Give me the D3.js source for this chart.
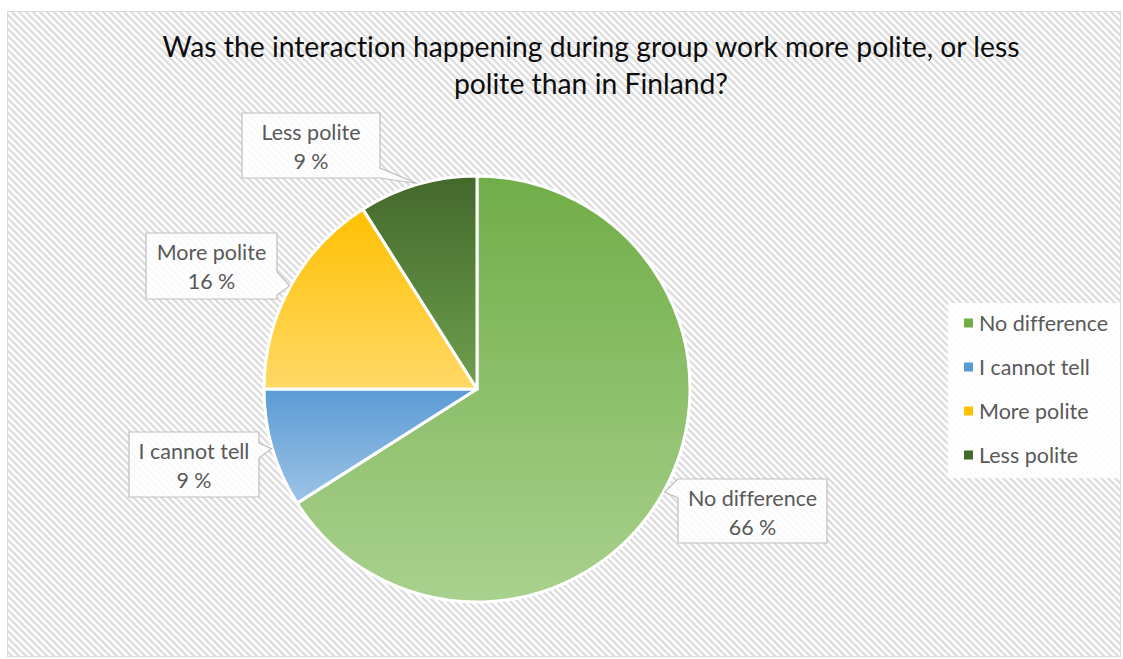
<!DOCTYPE html>
<html>
<head>
<meta charset="utf-8">
<script src="https://cdn.jsdelivr.net/npm/d3@7"></script>
<style>
  html, body { margin: 0; padding: 0; background: #ffffff; }
  svg { display: block; }
  text { font-family: Lato, "Open Sans", sans-serif; font-variant-ligatures: none; }
</style>
</head>
<body>
<svg id="chart" width="1123" height="659"></svg>
<script>
// Survey answers (percent of respondents)
const categories = ["No difference", "I cannot tell", "More polite", "Less polite"];
const values = [66, 9, 16, 9];
const titleLines = [
  "Was the interaction happening during group work more polite, or less",
  "polite than in Finland?"
];

// Fill gradients per slice: top colour → bottom colour
const gradTop    = ["#70ad47", "#5b9bd5", "#ffc000", "#43682b"];
const gradBottom = ["#a9d18e", "#9dc3e6", "#ffd966", "#6e9f4d"];
const legendColors = ["#70ad47", "#5b9bd5", "#ffc000", "#43682b"];

// Callout boxes for the data labels: box rect, side of the pointer, pointer base span
const callouts = [
  { box: [678, 479, 149, 64], side: "left",  base: [479, 498] },
  { box: [129, 432, 130, 65], side: "right", base: [443, 458] },
  { box: [146, 233, 131, 66], side: "right", base: [272, 295] },
  { box: [242, 113, 138, 65], side: "right", base: [168, 178] }
];

const W = 1123, H = 659;
const svg = d3.select("#chart");
const defs = svg.append("defs");

// diagonal hatch background
const pat = defs.append("pattern")
  .attr("id", "hatch")
  .attr("patternUnits", "userSpaceOnUse")
  .attr("width", 7).attr("height", 7);
pat.append("rect").attr("width", 7).attr("height", 7).attr("fill", "#ffffff");
pat.append("path")
  .attr("d", "M-2,-2 L9,9 M-2,5 L2,9 M5,-2 L9,2")
  .attr("stroke", "#dedede").attr("stroke-width", 2.4);

svg.append("rect")
  .attr("x", 7.5).attr("y", 11.5)
  .attr("width", 1113).attr("height", 645)
  .attr("fill", "url(#hatch)")
  .attr("stroke", "#d9d9d9").attr("stroke-width", 1);

// title
const title = svg.append("text")
  .attr("text-anchor", "middle")
  .attr("fill", "#0d0d0d")
  .style("font-size", "28.3px");
titleLines.forEach((t, i) => {
  title.append("tspan").attr("x", 591).attr("y", 57 + i * 37).text(t);
});

// gradients
categories.forEach((c, i) => {
  const g = defs.append("linearGradient")
    .attr("id", "grad" + i)
    .attr("x1", 0).attr("y1", 0).attr("x2", 0).attr("y2", 1);
  g.append("stop").attr("offset", "0%").attr("stop-color", gradTop[i]);
  g.append("stop").attr("offset", "100%").attr("stop-color", gradBottom[i]);
});

// pie
const cx = 477, cy = 389, R = 213;
const data = categories.map((c, i) => ({ cat: c, value: values[i], idx: i }));
const pie = d3.pie().sort(null).value(d => d.value);
const arcs = pie(data);
const arc = d3.arc().innerRadius(0).outerRadius(R);

const gPie = svg.append("g").attr("transform", `translate(${cx},${cy})`);
gPie.selectAll("path.slice")
  .data(arcs)
  .join("path")
  .attr("class", "slice")
  .attr("d", arc)
  .attr("fill", d => `url(#grad${d.data.idx})`)
  .attr("stroke", "#ffffff")
  .attr("stroke-width", 3)
  .attr("stroke-linejoin", "round");

// data label callouts, pointer tip on the outer edge at the slice's mid-angle
const gLab = svg.append("g");
arcs.forEach((a, i) => {
  const co = callouts[i];
  const mid = (a.startAngle + a.endAngle) / 2;
  const tx = cx + Math.sin(mid) * (R + 1);
  const ty = cy - Math.cos(mid) * (R + 1);
  const [x, y, w, h] = co.box;
  const x2 = x + w, y2 = y + h;
  let d;
  if (co.side === "right") {
    d = `M${x},${y} L${x2},${y} L${x2},${co.base[0]} L${tx},${ty} L${x2},${co.base[1]} L${x2},${y2} L${x},${y2} Z`;
  } else {
    d = `M${x},${y} L${x2},${y} L${x2},${y2} L${x},${y2} L${x},${co.base[1]} L${tx},${ty} L${x},${co.base[0]} Z`;
  }
  gLab.append("path")
    .attr("d", d)
    .attr("fill", "#ffffff")
    .attr("fill-opacity", 0.85)
    .attr("stroke", "#bfbfbf")
    .attr("stroke-width", 1.2)
    .attr("stroke-linejoin", "miter");
  const t = gLab.append("text")
    .attr("text-anchor", "middle")
    .attr("fill", "#595959")
    .style("font-size", "21.5px");
  t.append("tspan").attr("x", x + w / 2).attr("y", y + 27).text(a.data.cat);
  t.append("tspan").attr("x", x + w / 2).attr("y", y + 56).text(d3.format("d")(a.data.value) + " %");
});

// legend
const gLeg = svg.append("g");
gLeg.append("rect")
  .attr("x", 948).attr("y", 303).attr("width", 172).attr("height", 175)
  .attr("fill", "#ffffff").attr("fill-opacity", 0.9);
const legY = d3.scalePoint().domain(categories).range([323, 455]);
categories.forEach((c, i) => {
  const yy = legY(c);
  gLeg.append("rect")
    .attr("x", 964).attr("y", yy - 4.5)
    .attr("width", 9).attr("height", 9)
    .attr("fill", legendColors[i]);
  gLeg.append("text")
    .attr("x", 979).attr("y", yy + 7.5)
    .attr("fill", "#595959")
    .style("font-size", "21.5px")
    .text(c);
});
</script>
</body>
</html>
